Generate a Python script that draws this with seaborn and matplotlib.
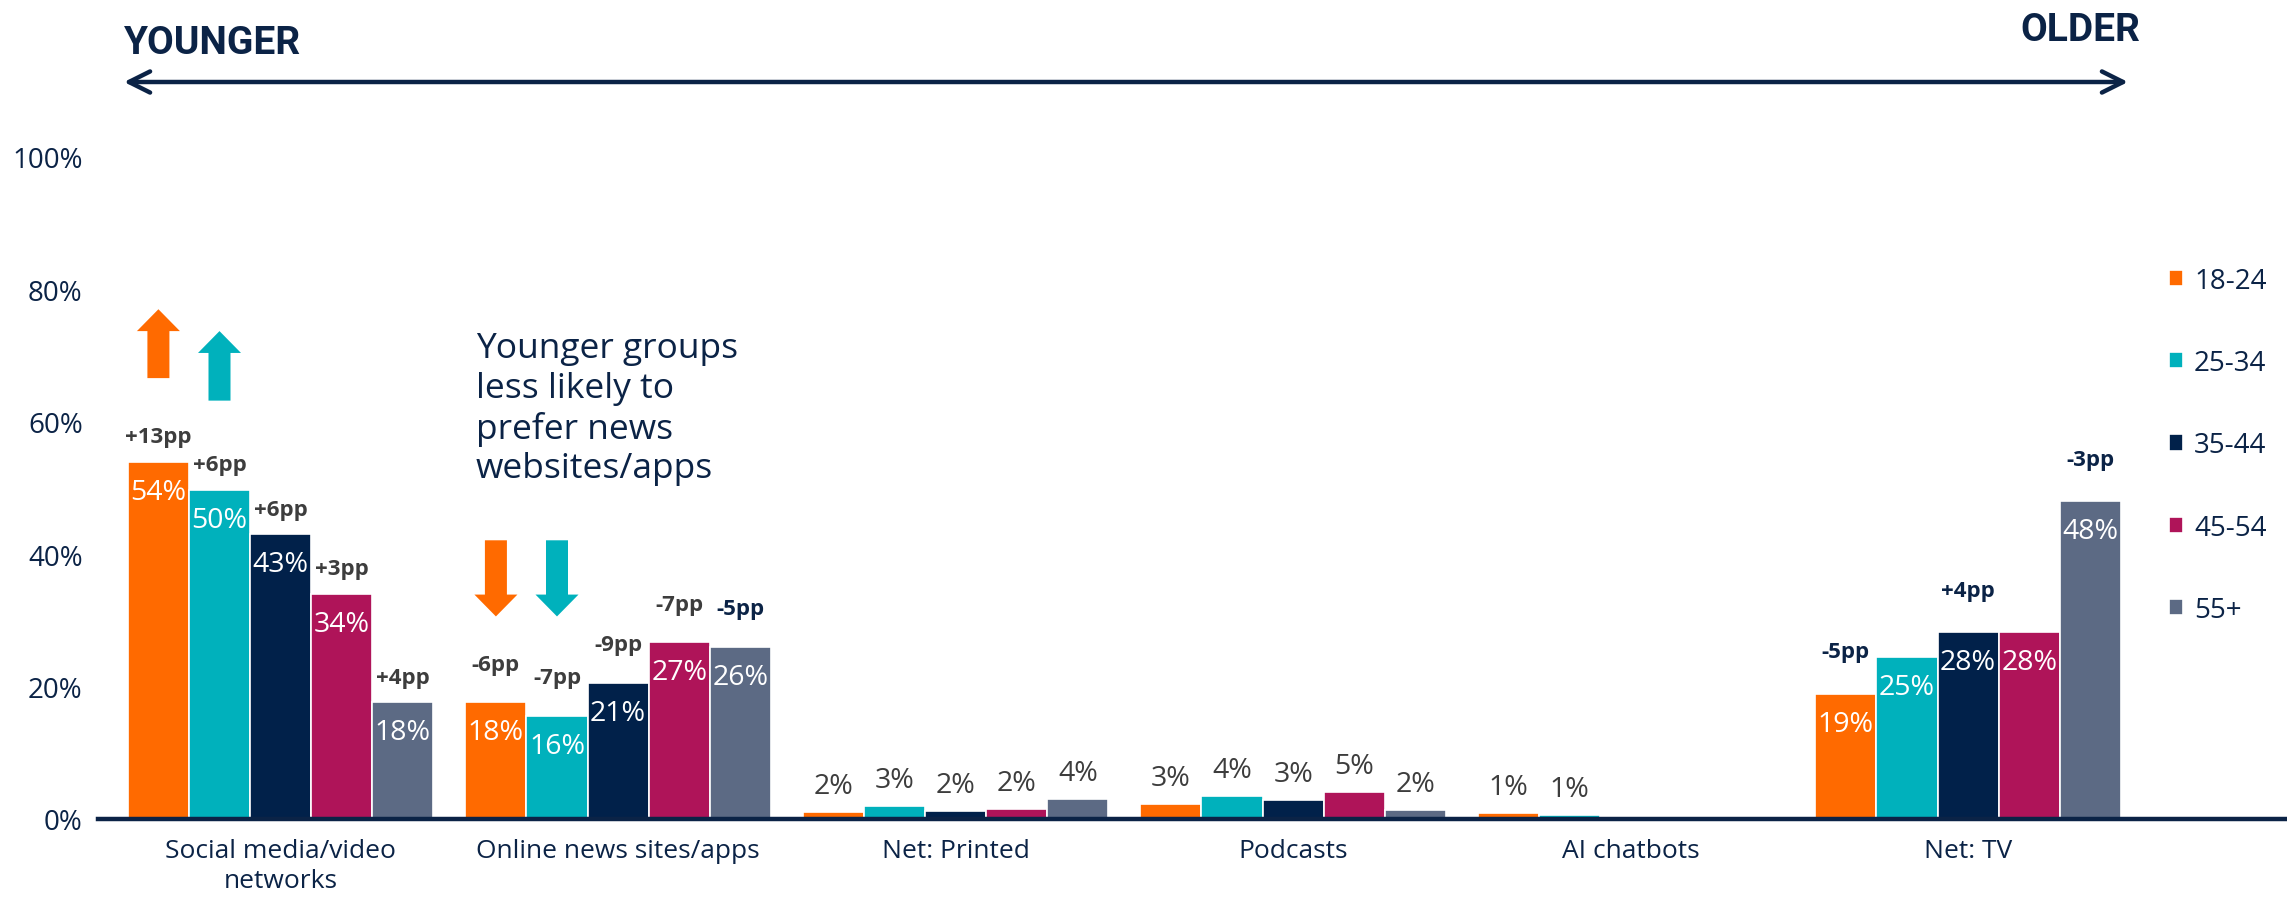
import numpy as np
import pandas as pd
import matplotlib
matplotlib.use("Agg")
import matplotlib.pyplot as plt
from matplotlib.patches import FancyArrow
import seaborn as sns

# ---------------- data ----------------
categories = ["Social media/video\nnetworks", "Online news sites/apps", "Net: Printed",
              "Podcasts", "AI chatbots", "Net: TV"]
age_groups = ["18-24", "25-34", "35-44", "45-54", "55+"]

vals_18_24 = [54.0, 17.6, 1.1, 2.3, 0.85, 18.9]
vals_25_34 = [49.7, 15.6, 1.95, 3.45, 0.6, 24.5]
vals_35_44 = [43.0, 20.6, 1.25, 2.8, np.nan, 28.2]
vals_45_54 = [34.0, 26.7, 1.5, 4.1, np.nan, 28.2]
vals_55_plus = [17.6, 26.0, 3.0, 1.4, np.nan, 48.0]

labels_18_24 = ["54%", "18%", "2%", "3%", "1%", "19%"]
labels_25_34 = ["50%", "16%", "3%", "4%", "1%", "25%"]
labels_35_44 = ["43%", "21%", "2%", "3%", "", "28%"]
labels_45_54 = ["34%", "27%", "2%", "5%", "", "28%"]
labels_55_plus = ["18%", "26%", "4%", "2%", "", "48%"]

pp_18_24 = ["+13pp", "-6pp", "", "", "", "-5pp"]
pp_25_34 = ["+6pp", "-7pp", "", "", "", ""]
pp_35_44 = ["+6pp", "-9pp", "", "", "", "+4pp"]
pp_45_54 = ["+3pp", "-7pp", "", "", "", ""]
pp_55_plus = ["+4pp", "-5pp", "", "", "", "-3pp"]

y_ticks = [0, 20, 40, 60, 80, 100]
y_tick_labels = ["0%", "20%", "40%", "60%", "80%", "100%"]

note_text = "Younger groups\nless likely to\nprefer news\nwebsites/apps"

# ---------------- styles ----------------
palette = ["#FF6A00", "#00B1BC", "#01214A", "#AF1459", "#5C6A84"]
NAVY = "#0B2346"
DGRAY = "#3D3D3D"
FONT = ["Open Sans", "DejaVu Sans"]
FONT_NARROW = ["Liberation Sans Narrow", "Roboto", "DejaVu Sans"]

sns.set_theme(style="white")
plt.rcParams["font.family"] = FONT

all_vals = [vals_18_24, vals_25_34, vals_35_44, vals_45_54, vals_55_plus]
all_labels = [labels_18_24, labels_25_34, labels_35_44, labels_45_54, labels_55_plus]
all_pp = [pp_18_24, pp_25_34, pp_35_44, pp_45_54, pp_55_plus]

rows = []
for age, vals in zip(age_groups, all_vals):
    for cat, v in zip(categories, vals):
        rows.append({"category": cat, "age": age, "value": v})
df = pd.DataFrame(rows).dropna()

W, H = 2287, 904
fig = plt.figure(figsize=(W / 100, H / 100), dpi=100)
ax_left, ax_right = 98, 2287
ax_bottom, ax_top = 820, 158
ax = fig.add_axes([ax_left / W, (H - ax_bottom) / H, (ax_right - ax_left) / W, (ax_bottom - ax_top) / H])
ax.patch.set_alpha(0)

sns.barplot(data=df, x="category", y="value", hue="age", order=categories, hue_order=age_groups,
            palette=palette, saturation=1, width=0.905, gap=0, errorbar=None,
            edgecolor="white", linewidth=1.2, ax=ax)

ax.set_xlim(-0.541, 5.945)
ax.set_ylim(0, 100)
ax.set_yticks(y_ticks)
ax.set_yticklabels(y_tick_labels)
ax.set_xlabel("")
ax.set_ylabel("")
for s in ["top", "right", "left"]:
    ax.spines[s].set_visible(False)
ax.spines["bottom"].set_color(NAVY)
ax.spines["bottom"].set_linewidth(3.2)
ax.tick_params(axis="y", length=0, pad=11, labelsize=20, labelcolor=NAVY)
ax.tick_params(axis="x", length=0, pad=14, labelsize=19, labelcolor=NAVY)
for t in ax.get_xticklabels():
    t.set_linespacing(1.25)

# ---------------- bar labels ----------------
pp_offset = {0: 25, 1: 38, 5: 42}
pp_navy = {(1, 4), (5, 0), (5, 2), (5, 4)}
bar_centers = {}
for hi, cont in enumerate(ax.containers):
    for bar in cont:
        h = bar.get_height()
        if not np.isfinite(h):
            continue
        cx = bar.get_x() + bar.get_width() / 2
        ci = int(round(cx))
        bar_centers[(ci, hi)] = cx
        lab = all_labels[hi][ci]
        if h > 10:
            ax.annotate(lab, (cx, h), xytext=(0, -30), textcoords="offset pixels",
                        ha="center", va="center", color="white", fontsize=20.5)
        else:
            ax.annotate(lab, (cx, h), xytext=(0, 26), textcoords="offset pixels",
                        ha="center", va="center", color=DGRAY, fontsize=20.5)
        pp = all_pp[hi][ci]
        if pp:
            col = NAVY if (ci, hi) in pp_navy else DGRAY
            ax.annotate(pp, (cx, h), xytext=(0, pp_offset.get(ci, 30)), textcoords="offset pixels",
                        ha="center", va="center", color=col, fontsize=16, fontweight="bold")

# ---------------- block arrows ----------------
px_x = 1 / 337.5          # data-x units per pixel
arrow_specs = [  # (category, series, start, end)
    (0, 0, 66.6, 77.0),
    (0, 1, 63.2, 73.7),
    (1, 0, 42.1, 30.6),
    (1, 1, 42.1, 30.6),
]
for ci, hi, y0, y1 in arrow_specs:
    cx = bar_centers[(ci, hi)]
    ax.add_patch(FancyArrow(cx, y0, 0, y1 - y0, width=22 * px_x, head_width=43 * px_x,
                            head_length=3.3, length_includes_head=True,
                            color=palette[hi], lw=0, clip_on=False))

# ---------------- note ----------------
fig.text(476 / W, (H - 332) / H, note_text, ha="left", va="top", fontsize=25.5,
         color=NAVY, linespacing=1.22)

# ---------------- younger/older ----------------
ax.annotate("", xy=(124, H - 83), xytext=(2128, H - 83), xycoords="figure pixels",
            textcoords="figure pixels",
            arrowprops=dict(arrowstyle="<->", lw=3.2, color=NAVY, mutation_scale=38,
                            shrinkA=0, shrinkB=0))
fig.text(124 / W, (H - 54) / H, "YOUNGER", ha="left", va="baseline", fontsize=28,
         fontweight="bold", color=NAVY, family=FONT_NARROW)
fig.text(2140 / W, (H - 41) / H, "OLDER", ha="right", va="baseline", fontsize=28,
         fontweight="bold", color=NAVY, family=FONT_NARROW)

# ---------------- legend ----------------
sns.move_legend(ax, "upper left", bbox_to_anchor=(2169 / W, (H - 268) / H),
                bbox_transform=fig.transFigure, frameon=False, title=None, fontsize=20,
                labelcolor=NAVY, labelspacing=1.95, handlelength=0.52, handleheight=0.52,
                handletextpad=0.38, borderpad=0, borderaxespad=0)

fig.savefig("out.png", dpi=100, facecolor="white")
